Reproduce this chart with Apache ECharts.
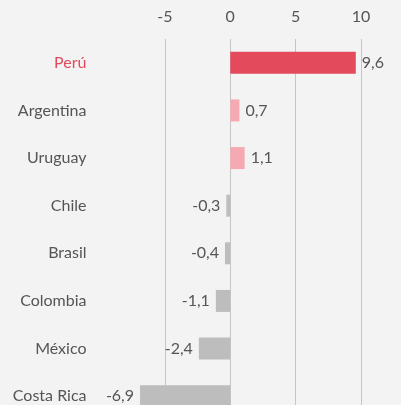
<!DOCTYPE html>
<html>
<head>
<meta charset="utf-8">
<script src="https://cdn.jsdelivr.net/npm/echarts@6/dist/echarts.min.js"></script>
<style>
  html, body { margin:0; padding:0; background:#f2f3f2; }
  #chart { width:401px; height:405px; }
</style>
</head>
<body>
<div id="chart"></div>
<script>
var countries = ["Perú","Argentina","Uruguay","Chile","Brasil","Colombia","México","Costa Rica"];
var values = [9.6, 0.7, 1.1, -0.3, -0.4, -1.1, -2.4, -6.9];
var barColors = ["#e34a5c","#f5aab3","#f5aab3","#bcbdbc","#bcbdbc","#bcbdbc","#bcbdbc","#bcbdbc"];
var highlight = "Perú";

var myChart = echarts.init(document.getElementById("chart"));
var font = "Lato, 'DejaVu Sans', sans-serif";

var seriesData = values.map(function(v, i){
    return {
        value: v,
        itemStyle: {color: barColors[i]},
        label: {position: v >= 0 ? "right" : "left"}
    };
});

var option = {
    backgroundColor: "#f2f3f2",
    grid: {left: 99.5, right: 40, top: 39, height: 381, outerBoundsMode: "none", containLabel: false},
    xAxis: {
        type: "value",
        position: "top",
        min: -10,
        max: 10,
        interval: 5,
        axisLine: {show: false},
        axisTick: {show: false},
        axisLabel: {
            showMinLabel: false,
            color: "#555",
            fontSize: 16,
            fontFamily: font,
            margin: 14
        },
        splitLine: {
            showMinLine: false,
            lineStyle: {color: "#c6c6c6", width: 1}
        }
    },
    yAxis: {
        type: "category",
        data: countries,
        inverse: true,
        axisLine: {show: false},
        axisTick: {show: false},
        axisLabel: {
            margin: 13,
            fontSize: 16,
            fontFamily: font,
            color: function(val){ return val === highlight ? "#e34a5c" : "#555"; }
        }
    },
    series: [{
        type: "bar",
        data: seriesData,
        barWidth: 22,
        label: {
            show: true,
            color: "#555",
            fontSize: 16,
            fontFamily: font,
            distance: 6,
            formatter: function(p){ return String(p.value).replace(".", ","); }
        }
    }]
};
myChart.setOption(option);
</script>
</body>
</html>
